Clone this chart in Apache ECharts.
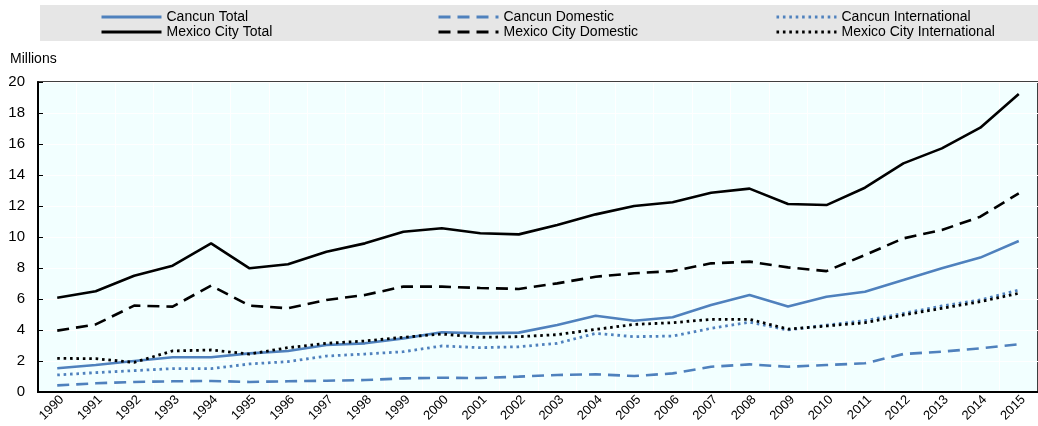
<!DOCTYPE html>
<html>
<head>
<meta charset="utf-8">
<script src="https://cdn.jsdelivr.net/npm/echarts@6/dist/echarts.min.js"></script>
<style>html,body{margin:0;padding:0;background:#fff}#c{width:1038px;height:426px}</style>
</head>
<body>
<div id="c"></div>
<script>
const years = ['1990','1991','1992','1993','1994','1995','1996','1997','1998','1999','2000','2001','2002','2003','2004','2005','2006','2007','2008','2009','2010','2011','2012','2013','2014','2015'];
const yTicks = [0, 2, 4, 6, 8, 10, 12, 14, 16, 18, 20];
const cancunTotal = [1.53,1.74,2.0,2.24,2.24,2.49,2.65,3.03,3.14,3.46,3.85,3.78,3.83,4.32,4.92,4.6,4.82,5.61,6.26,5.51,6.15,6.47,7.23,7.98,8.67,9.74];
const cancunDomestic = [0.43,0.56,0.65,0.69,0.71,0.65,0.69,0.73,0.77,0.88,0.92,0.9,0.99,1.1,1.14,1.03,1.2,1.63,1.78,1.63,1.74,1.85,2.45,2.6,2.82,3.08];
const cancunInternational = [1.1,1.25,1.38,1.51,1.51,1.81,1.96,2.32,2.45,2.6,2.97,2.86,2.92,3.14,3.78,3.57,3.61,4.11,4.5,4.0,4.32,4.6,5.07,5.55,5.94,6.58];
const mexTotal = [6.08,6.5,7.5,8.15,9.59,7.98,8.24,9.05,9.59,10.34,10.56,10.24,10.17,10.77,11.46,12.0,12.24,12.86,13.12,12.13,12.06,13.18,14.75,15.72,17.05,19.23];
const mexDomestic = [3.96,4.36,5.57,5.51,6.86,5.57,5.4,5.94,6.26,6.8,6.8,6.71,6.65,7.01,7.44,7.66,7.8,8.3,8.41,8.04,7.8,8.84,9.91,10.45,11.31,12.82];
const mexInternational = [2.17,2.15,1.91,2.65,2.71,2.45,2.86,3.14,3.29,3.53,3.74,3.53,3.57,3.7,4.04,4.36,4.47,4.69,4.69,4.06,4.26,4.47,4.97,5.4,5.83,6.37];

const BLUE = '#4f81bd';
const BLACK = '#000000';
const FONT = 'Liberation Sans, Arial, sans-serif';

const dashed = [12, 7];
const dotted = [2.6, 3.8];

function mk(name, data, color, type) {
  return {
    name: name, type: 'line', data: data, symbol: 'none', showSymbol: false,
    lineStyle: { color: color, width: type === dotted ? 2.8 : 2.6, type: type },
    itemStyle: { color: color },
    emphasis: { disabled: true }, animation: false
  };
}

const series = [
  mk('Cancun Total', cancunTotal, BLUE, 'solid'),
  mk('Cancun Domestic', cancunDomestic, BLUE, dashed),
  mk('Cancun International', cancunInternational, BLUE, dotted),
  mk('Mexico City Total', mexTotal, BLACK, 'solid'),
  mk('Mexico City Domestic', mexDomestic, BLACK, dashed),
  mk('Mexico City International', mexInternational, BLACK, dotted)
];

function legend(left, names) {
  return {
    left: left, top: 5, orient: 'vertical', itemGap: 1, itemWidth: 60, itemHeight: 14,
    selectedMode: false,
    itemStyle: { opacity: 0 },
    lineStyle: { width: 3 },
    textStyle: { fontFamily: FONT, fontSize: 14, color: '#000' },
    data: names
  };
}

const chart = echarts.init(document.getElementById('c'), null, { renderer: 'canvas' });
chart.setOption({
  animation: false,
  graphic: [
    { type: 'rect', left: 40, top: 5, shape: { width: 998, height: 36 }, style: { fill: '#e6e6e6' }, z: -10 },
    { type: 'text', left: 10, top: 52, style: { text: 'Millions', font: '14px ' + FONT, fill: '#000' } }
  ],
  legend: [
    legend(95, ['Cancun Total', 'Mexico City Total']),
    legend(432, ['Cancun Domestic', 'Mexico City Domestic']),
    legend(770, ['Cancun International', 'Mexico City International'])
  ],
  grid: { left: 38, top: 82, width: 1009, height: 310, show: true, backgroundColor: '#f2ffff', borderColor: '#000', borderWidth: 1.5 },
  xAxis: {
    type: 'category', data: years, boundaryGap: true,
    axisLine: { lineStyle: { color: '#000', width: 2 } },
    axisTick: { inside: true, length: 5, lineStyle: { color: '#000', width: 1 } },
    axisLabel: { rotate: 45, interval: 0, fontFamily: FONT, fontSize: 13, color: '#000', margin: 1, verticalAlign: 'top' },
    splitLine: { show: true, lineStyle: { color: '#ffffff', width: 1 } }
  },
  yAxis: {
    type: 'value', min: 0, max: 20, interval: 2,
    axisLine: { show: true, lineStyle: { color: '#000', width: 2 } },
    axisTick: { show: true, inside: true, length: 5, lineStyle: { color: '#000', width: 1 } },
    axisLabel: { fontFamily: FONT, fontSize: 15, color: '#000', margin: 13,
      formatter: v => yTicks.indexOf(v) >= 0 ? String(v) : '' },
    splitLine: { show: true, lineStyle: { color: '#ffffff', width: 1 } }
  },
  series: series
});
</script>
</body>
</html>
